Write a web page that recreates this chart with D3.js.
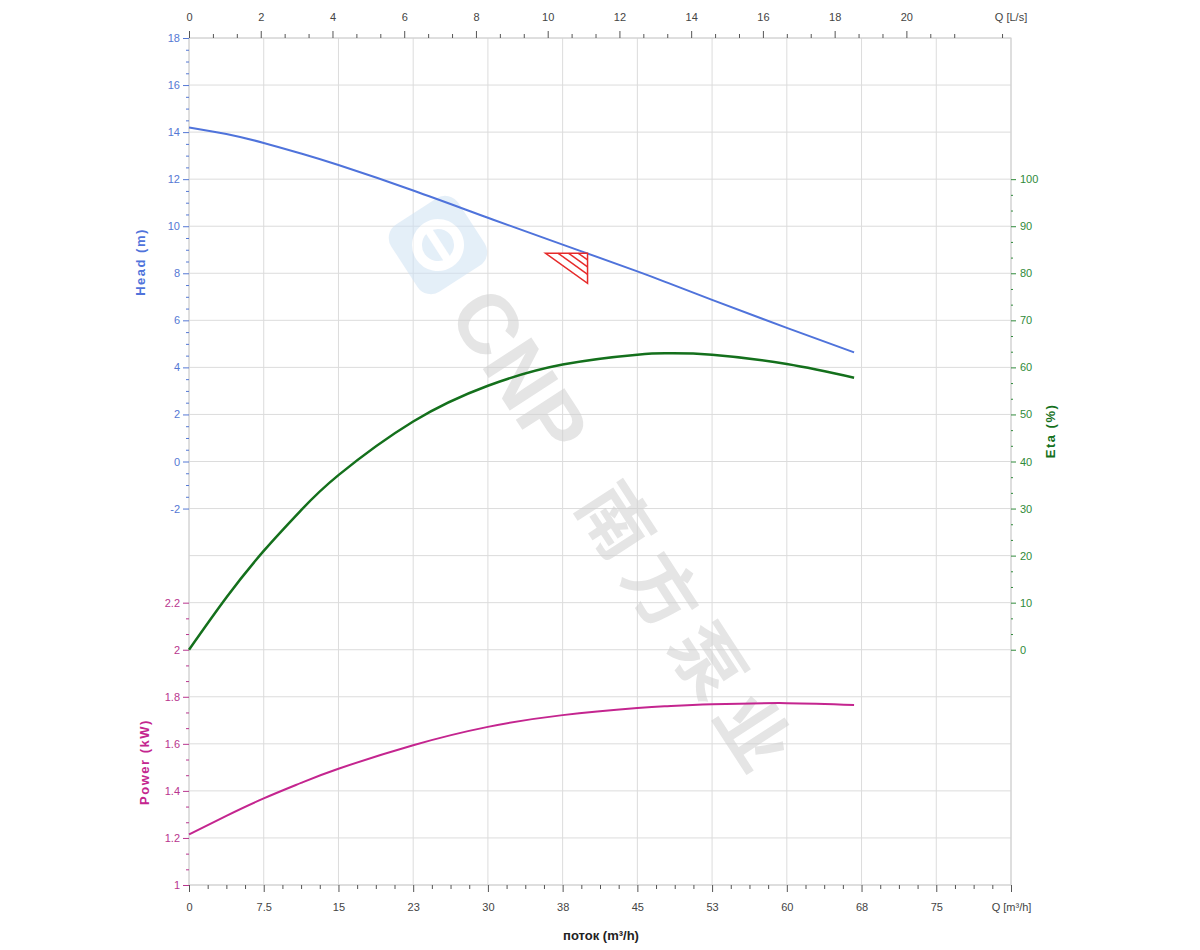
<!DOCTYPE html>
<html>
<head>
<meta charset="utf-8">
<script src="https://cdn.jsdelivr.net/npm/d3@7"></script>
<style>
    body { margin: 0; background: #fff; }
    .axe text { font-family: "Liberation Sans Narrow", "Arial Narrow", "Liberation Sans", Arial, sans-serif; font-size: 11px; }
    .axe .domain { display: none; }
</style>
</head>
<body>
<script>
// Données (débit en m3/h)
let debits = [0, 3.75, 7.5, 11.25, 15, 22.5, 30, 37.5, 45, 48, 52.5, 60, 66.75];
let hauteurs = [14.2, 13.92, 13.54, 13.09, 12.6, 11.52, 10.36, 9.22, 8.08, 7.6, 6.87, 5.68, 4.64];
let rendements = [0, 11.1, 21.0, 29.65, 37.1, 48.5, 56.1, 60.6, 62.7, 63.0, 62.7, 60.7, 57.8];
let puissances = [1.215, 1.294, 1.368, 1.434, 1.494, 1.594, 1.672, 1.722, 1.752, 1.76, 1.768, 1.773, 1.765];

// Point de fonctionnement
let pointDebit = 40;
let pointHauteur = 8.85;

// Graduations
let ticksDebit = [0, 7.5, 15, 22.5, 30, 37.5, 45, 52.5, 60, 67.5, 75, 82.5];
let ticksLs = [0, 2, 4, 6, 8, 10, 12, 14, 16, 18, 20];
let ticksHauteur = [-2, 0, 2, 4, 6, 8, 10, 12, 14, 16, 18];
let ticksPuissance = [1, 1.2, 1.4, 1.6, 1.8, 2, 2.2];
let ticksRendement = [0, 10, 20, 30, 40, 50, 60, 70, 80, 90, 100];

let marges = { top: 38, right: 189, bottom: 65, left: 189 };
let width = 1200 - marges.left - marges.right;
let height = 950 - marges.top - marges.bottom;

let bleu = "#4f73db", vert = "#14701c", rose = "#c4258f";

let canevas = d3.select("body").append("svg")
    .attr("width", 1200)
    .attr("height", 950)
    .append("g")
    .attr("transform", "translate(" + marges.left + "," + marges.top + ")");

// Echelles
let x = d3.scaleLinear().domain([0, 82.5]).range([0, width]);
let xLs = d3.scaleLinear().domain([0, 82.5 / 3.6]).range([0, width]);
let yHead = d3.scaleLinear().domain([-18, 18]).range([height, 0]);
let yPower = d3.scaleLinear().domain([1, 4.6]).range([height, 0]);
let yEta = d3.scaleLinear().domain([-50, 130]).range([height, 0]);

// Grille
canevas.append("g").selectAll("line")
    .data(d3.range(-18, 19, 2))
    .enter().append("line")
    .attr("x1", 0).attr("x2", width)
    .attr("y1", d => yHead(d)).attr("y2", d => yHead(d))
    .attr("stroke", "#dcdcdc");
canevas.append("g").selectAll("line")
    .data(ticksDebit)
    .enter().append("line")
    .attr("x1", d => x(d)).attr("x2", d => x(d))
    .attr("y1", 0).attr("y2", height)
    .attr("stroke", "#dcdcdc");
canevas.append("rect")
    .attr("width", width).attr("height", height)
    .attr("fill", "none").attr("stroke", "#cfcfcf");

// Filigrane
let filigrane = canevas.append("g")
    .attr("transform", "translate(" + (438 - marges.left) + "," + (245 - marges.top) + ") rotate(57)")
    .attr("opacity", 0.55);
filigrane.append("rect")
    .attr("x", -40).attr("y", -40).attr("width", 80).attr("height", 80).attr("rx", 16)
    .attr("fill", "#cfe2f4");
filigrane.append("circle")
    .attr("r", 21).attr("fill", "none").attr("stroke", "#fff").attr("stroke-width", 10);
filigrane.append("rect")
    .attr("x", -21).attr("y", -4).attr("width", 42).attr("height", 8).attr("fill", "#fff");
filigrane.append("text")
    .attr("x", 62).attr("y", 30)
    .style("font-family", "Liberation Sans, Arial, sans-serif")
    .style("font-weight", "bold").style("font-size", "84px")
    .attr("fill", "#d0d0d0")
    .text("CNP");
filigrane.append("text")
    .attr("x", 292).attr("y", 27)
    .style("font-family", "Noto Sans CJK SC, sans-serif")
    .style("font-weight", "bold").style("font-size", "72px")
    .style("letter-spacing", "12px")
    .attr("fill", "#d0d0d0")
    .text("南方泵业");

// Axes du haut et du bas
let axeHaut = canevas.append("g").attr("class", "axe")
    .call(d3.axisTop(xLs).tickValues(ticksLs).tickSize(7).tickPadding(10));
canevas.append("g").attr("class", "axe")
    .call(d3.axisTop(xLs).tickValues(d3.range(0, 22.8, 2 / 3).filter((d, i) => i % 3 !== 0)).tickSize(4).tickFormat(""));
axeHaut.append("text")
    .attr("x", width).attr("y", -17)
    .attr("fill", "#444").attr("text-anchor", "middle")
    .text("Q [L/s]");

canevas.append("g").attr("class", "axe")
    .attr("transform", "translate(0," + height + ")")
    .call(d3.axisBottom(x).tickValues(ticksDebit).tickSize(7).tickPadding(11)
        .tickFormat(d => d === 82.5 ? "Q [m³/h]" : (d < 10 ? String(d) : String(Math.round(d)))));
canevas.append("g").attr("class", "axe")
    .attr("transform", "translate(0," + height + ")")
    .call(d3.axisBottom(x).tickValues(d3.range(0, 82.6, 1.875).filter((d, i) => i % 4 !== 0)).tickSize(4).tickFormat(""));
canevas.selectAll(".axe text").attr("fill", "#444");
canevas.selectAll(".axe line").attr("stroke", "#555");

// Axes de gauche (hauteur + puissance)
let axeHead = canevas.append("g").attr("class", "axe")
    .call(d3.axisLeft(yHead).tickValues(ticksHauteur).tickSize(6).tickPadding(3).tickFormat(d => String(d)));
axeHead.append("g")
    .call(d3.axisLeft(yHead).tickValues(d3.range(-2, 18.1, 0.5).filter(d => d % 2 !== 0)).tickSize(3).tickFormat(""));
axeHead.selectAll("text").attr("fill", "#5578d4");
axeHead.selectAll("line").attr("stroke", "#5578d4");

let axePower = canevas.append("g").attr("class", "axe")
    .call(d3.axisLeft(yPower).tickValues(ticksPuissance).tickSize(6).tickPadding(3).tickFormat(d => String(d)));
axePower.append("g")
    .call(d3.axisLeft(yPower).tickValues(d3.range(0, 19).map(i => 1 + i * 0.2 / 3).filter((d, i) => i % 3 !== 0)).tickSize(3).tickFormat(""));
axePower.selectAll("text").attr("fill", "#b8358e");
axePower.selectAll("line").attr("stroke", "#b8358e");

// Axe de droite (rendement)
let axeEta = canevas.append("g").attr("class", "axe")
    .attr("transform", "translate(" + width + ",0)")
    .call(d3.axisRight(yEta).tickValues(ticksRendement).tickSize(5).tickPadding(4));
axeEta.append("g")
    .call(d3.axisRight(yEta).tickValues(d3.range(0, 31).map(i => i * 10 / 3).filter((d, i) => i % 3 !== 0)).tickSize(2).tickFormat(""));
axeEta.selectAll("text").attr("fill", "#2f8a3a");
axeEta.selectAll("line").attr("stroke", "#2f8a3a");

// Titres
function titre(texte, tx, ty, rot, couleur, taille) {
    canevas.append("text")
        .attr("transform", "translate(" + tx + "," + ty + ") rotate(" + rot + ")")
        .attr("text-anchor", "middle")
        .style("font-family", "Liberation Sans, Arial, sans-serif")
        .style("font-weight", "bold")
        .style("font-size", taille + "px")
        .style("letter-spacing", rot ? "1.5px" : "0px")
        .attr("fill", couleur)
        .text(texte);
}
titre("Head (m)", 145 - marges.left, 262 - marges.top, -90, bleu, 13);
titre("Power (kW)", 149 - marges.left, 762 - marges.top, -90, rose, 13);
titre("Eta (%)", 1055 - marges.left, 431 - marges.top, -90, vert, 13);
titre("поток (m³/h)", 601 - marges.left, 940 - marges.top, 0, "#222", 13);

// Courbes
function courbe(valeurs, echelle, couleur, epaisseur) {
    let ligne = d3.line()
        .x((d, i) => x(debits[i]))
        .y(d => echelle(d))
        .curve(d3.curveNatural);
    canevas.append("path")
        .datum(valeurs)
        .attr("d", ligne)
        .attr("fill", "none")
        .attr("stroke", couleur)
        .attr("stroke-width", epaisseur);
}
courbe(hauteurs, yHead, bleu, 2);
courbe(rendements, yEta, vert, 2.5);
courbe(puissances, yPower, rose, 2);

// Triangle du point de fonctionnement (hachuré)
let px = x(pointDebit), py = yHead(pointHauteur);
let tw = 42, th = 30;
let triangle = canevas.append("g").attr("transform", "translate(" + px + "," + py + ")");
triangle.append("path")
    .attr("d", "M" + (-tw) + ",0L0,0L0," + th + "Z")
    .attr("fill", "#fff").attr("stroke", "#e62a2a").attr("stroke-width", 1.5);
triangle.selectAll("line")
    .data([0.3, 0.55, 0.78])
    .enter().append("line")
    .attr("x1", t => -tw + t * tw).attr("y1", 0)
    .attr("x2", 0).attr("y2", t => (1 - t) * th)
    .attr("stroke", "#e62a2a").attr("stroke-width", 1.5);
</script>
</body>
</html>
